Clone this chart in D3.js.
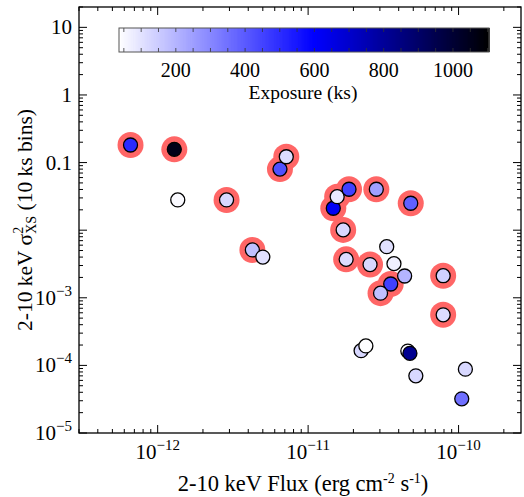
<!DOCTYPE html>
<html>
<head>
<meta charset="utf-8">
<script src="https://cdn.jsdelivr.net/npm/d3@7/dist/d3.min.js"></script>
<style>
  body { margin: 0; background: #fff; }
  text { font-family: "Liberation Serif", "Times New Roman", serif; fill: #000; }
</style>
</head>
<body>
<div id="chart"></div>
<script>
// 2-10 keV flux (erg cm^-2 s^-1)
var flux = [6.6e-13, 1.29e-12, 1.36e-12, 2.87e-12, 4.26e-12, 5.0e-12, 6.5e-12, 7.16e-12,
            1.47e-11, 1.56e-11, 1.87e-11, 1.71e-11, 2.84e-11, 4.81e-11, 1.79e-11, 2.58e-11,
            3.33e-11, 3.72e-11, 4.38e-11, 3.54e-11, 3.03e-11, 7.9e-11, 7.9e-11,
            2.25e-11, 2.42e-11, 4.6e-11, 4.75e-11, 5.2e-11, 1.11e-10, 1.05e-10];
// excess variance, 10 ks bins
var sigma = [0.182, 0.157, 0.028, 0.028, 5.1e-3, 4.0e-3, 0.080, 0.122,
             0.0211, 0.0313, 0.0403, 0.0101, 0.0403, 0.0250, 3.7e-3, 3.1e-3,
             5.7e-3, 3.2e-3, 2.1e-3, 1.6e-3, 1.17e-3, 2.12e-3, 5.6e-4,
             1.65e-4, 1.94e-4, 1.63e-4, 1.51e-4, 7.0e-5, 8.8e-5, 3.2e-5];
// exposure (ks)
var exposure = [507, 1057, 46, 122, 175, 105, 423, 113,
                620, 87, 459, 122, 246, 388, 113, 122,
                105, 69, 202, 459, 175, 140, 113,
                122, 40, 45, 819, 122, 122, 352];
// highlighted sources (red ring)
var flagged = [1, 1, 0, 1, 1, 0, 1, 1,
               1, 1, 1, 1, 1, 1, 1, 1,
               0, 0, 0, 1, 1, 1, 1,
               0, 0, 0, 0, 0, 0, 0];

var xTickValues = [1e-12, 1e-11, 1e-10];
var xTickLabels = ["10^−12", "10^−11", "10^−10"];
var yTickValues = [10, 1, 0.1, 0.01, 1e-3, 1e-4, 1e-5];
var yTickLabels = ["10", "1", "0.1", "", "10^−3", "10^−4", "10^−5"];
var cbarTicks = [200, 400, 600, 800, 1000];

var width = 524, height = 497;
var plotL = 79, plotR = 521, plotT = 7, plotB = 433;

var svg = d3.select("#chart").append("svg")
    .attr("width", width)
    .attr("height", height);

var x = d3.scaleLog().domain([3e-13, 2.6e-10]).range([plotL, plotR]);
var y = d3.scaleLog().domain([1e-5, 20]).range([plotB, plotT]);
var color = d3.scaleLinear().domain([36, 600, 1104]).range(["#ffffff", "#0000ff", "#000000"]);

// label with optional superscript, "10^-3"
function supLabel(sel, str, supSize) {
  var parts = str.split("^");
  sel.append("tspan").text(parts[0]);
  if (parts.length > 1) {
    sel.append("tspan")
      .attr("dy", -9)
      .attr("font-size", supSize)
      .text(parts[1]);
  }
}

// minor + major ticks, inward on all four sides
var xMinor = x.ticks().filter(function(d) { return xTickValues.indexOf(d) < 0; });
var yMinor = y.ticks().filter(function(d) { return yTickValues.indexOf(d) < 0; });
var ticks = svg.append("g").attr("stroke", "#000").attr("stroke-width", 1);

[[plotB, -1], [plotT, 1]].forEach(function(side) {
  ticks.selectAll(null).data(xMinor).enter().append("line")
    .attr("x1", function(d) { return x(d); }).attr("x2", function(d) { return x(d); })
    .attr("y1", side[0]).attr("y2", side[0] + side[1] * 4);
  ticks.selectAll(null).data(xTickValues).enter().append("line")
    .attr("x1", function(d) { return x(d); }).attr("x2", function(d) { return x(d); })
    .attr("y1", side[0]).attr("y2", side[0] + side[1] * 8);
});
[[plotL, 1], [plotR, -1]].forEach(function(side) {
  ticks.selectAll(null).data(yMinor).enter().append("line")
    .attr("y1", function(d) { return y(d); }).attr("y2", function(d) { return y(d); })
    .attr("x1", side[0]).attr("x2", side[0] + side[1] * 4);
  ticks.selectAll(null).data(yTickValues).enter().append("line")
    .attr("y1", function(d) { return y(d); }).attr("y2", function(d) { return y(d); })
    .attr("x1", side[0]).attr("x2", side[0] + side[1] * 8);
});

svg.append("rect")
  .attr("x", plotL).attr("y", plotT)
  .attr("width", plotR - plotL).attr("height", plotB - plotT)
  .attr("fill", "none").attr("stroke", "#000").attr("stroke-width", 1.3);

// tick labels
svg.selectAll(".xlab").data(xTickValues).enter().append("text")
  .attr("class", "xlab")
  .attr("x", function(d) { return x(d); })
  .attr("y", 459)
  .attr("text-anchor", "middle")
  .attr("font-size", 21)
  .each(function(d, i) { supLabel(d3.select(this), xTickLabels[i], 15); });

svg.selectAll(".ylab").data(yTickValues).enter().append("text")
  .attr("class", "ylab")
  .attr("x", 72)
  .attr("y", function(d) { return y(d) + 7; })
  .attr("text-anchor", "end")
  .attr("font-size", 21)
  .each(function(d, i) { supLabel(d3.select(this), yTickLabels[i], 15); });

// axis titles
var xt = svg.append("text")
  .attr("x", 303).attr("y", 491)
  .attr("text-anchor", "middle")
  .attr("font-size", 22.5);
xt.append("tspan").text("2-10 keV Flux (erg cm");
xt.append("tspan").attr("dy", -8).attr("font-size", 14).text("-2");
xt.append("tspan").attr("dy", 8).text(" s");
xt.append("tspan").attr("dy", -8).attr("font-size", 14).text("-1");
xt.append("tspan").attr("dy", 8).text(")");

var yt = svg.append("text")
  .attr("transform", "translate(32," + ((plotT + plotB) / 2) + ") rotate(-90)")
  .attr("text-anchor", "middle")
  .attr("font-size", 21.5);
yt.append("tspan").text("2-10 keV σ");
yt.append("tspan").attr("dy", -9).attr("font-size", 14).text("2");
yt.append("tspan").attr("dx", -7).attr("dy", 13).attr("font-size", 14).text("XS");
yt.append("tspan").attr("dy", -4).text(" (10 ks bins)");

// points: red rings under everything, then the markers
var idx = d3.range(flux.length);
svg.append("g").selectAll("circle")
  .data(idx.filter(function(i) { return flagged[i]; }))
  .enter().append("circle")
  .attr("cx", function(i) { return x(flux[i]); })
  .attr("cy", function(i) { return y(sigma[i]); })
  .attr("r", 13)
  .attr("fill", "#ff6666");

svg.append("g").selectAll("circle")
  .data(idx)
  .enter().append("circle")
  .attr("cx", function(i) { return x(flux[i]); })
  .attr("cy", function(i) { return y(sigma[i]); })
  .attr("r", 7)
  .attr("fill", function(i) { return color(exposure[i]); })
  .attr("stroke", "#000")
  .attr("stroke-width", 1.3);

// colour bar
var cb = d3.scaleLinear().domain([36, 1104]).range([119, 489]);
var cbTop = 28, cbH = 24;
var steps = d3.range(36, 1104, 2);
var cbar = svg.append("g");
cbar.selectAll("rect").data(steps).enter().append("rect")
  .attr("x", function(d) { return cb(d); })
  .attr("y", cbTop)
  .attr("width", cb(38) - cb(36) + 0.8)
  .attr("height", cbH)
  .attr("fill", function(d) { return color(d + 1); });
var cbMinor = d3.range(50, 1101, 50);
cbar.selectAll(".ct").data(cbMinor).enter().append("line")
  .attr("x1", function(d) { return cb(d); }).attr("x2", function(d) { return cb(d); })
  .attr("y1", cbTop).attr("y2", cbTop + 4)
  .attr("stroke", "#333").attr("stroke-width", 0.8);
cbar.selectAll(".cb").data(cbMinor).enter().append("line")
  .attr("x1", function(d) { return cb(d); }).attr("x2", function(d) { return cb(d); })
  .attr("y1", cbTop + cbH).attr("y2", cbTop + cbH - 4)
  .attr("stroke", "#333").attr("stroke-width", 0.8);
cbar.append("rect")
  .attr("x", 119).attr("y", cbTop).attr("width", 370).attr("height", cbH)
  .attr("fill", "none").attr("stroke", "#555").attr("stroke-width", 1);
cbar.selectAll("text").data(cbarTicks).enter().append("text")
  .attr("x", function(d) { return cb(d); })
  .attr("y", 77)
  .attr("text-anchor", "middle")
  .attr("font-size", 20)
  .text(function(d) { return d; });
svg.append("text")
  .attr("x", 303).attr("y", 99)
  .attr("text-anchor", "middle")
  .attr("font-size", 19.5)
  .text("Exposure (ks)");
</script>
</body>
</html>
